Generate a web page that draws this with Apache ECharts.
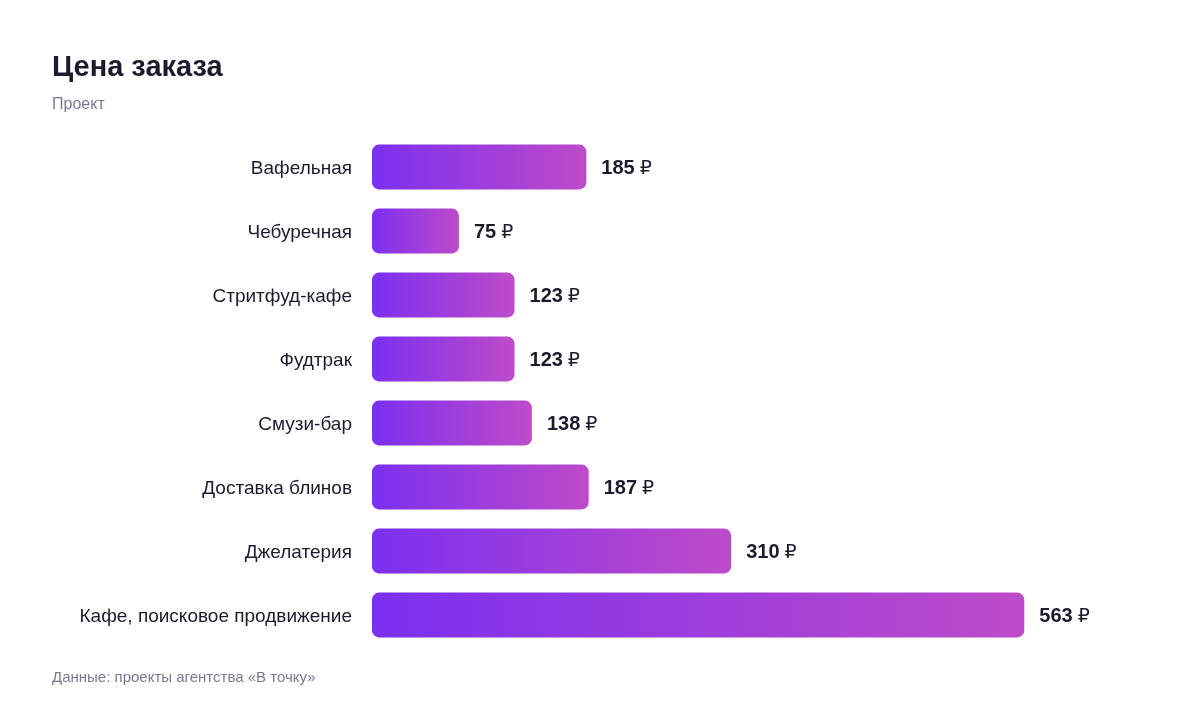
<!DOCTYPE html>
<html>
<head>
<meta charset="utf-8">
<script src="https://cdn.jsdelivr.net/npm/echarts@6/dist/echarts.min.js"></script>
<style>
  html, body { margin: 0; padding: 0; background: #fff; }
  #chart { width: 1200px; height: 712px; }
</style>
</head>
<body>
<div id="chart"></div>
<script>
// данные графика
var categories = [
  'Вафельная',
  'Чебуречная',
  'Стритфуд-кафе',
  'Фудтрак',
  'Смузи-бар',
  'Доставка блинов',
  'Джелатерия',
  'Кафе, поисковое продвижение'
];
var prices = [185, 75, 123, 123, 138, 187, 310, 563];
var currency = '₽';

var fontMain = '"Liberation Sans", Arial, Helvetica, sans-serif';

var chart = echarts.init(document.getElementById('chart'), null, { renderer: 'canvas' });

var barGradient = new echarts.graphic.LinearGradient(0, 0, 1, 0, [
  { offset: 0, color: '#7b2ff0' },
  { offset: 1, color: '#be4bc9' }
]);

var option = {
  backgroundColor: '#ffffff',
  animation: false,
  title: [
    {
      text: 'Цена заказа',
      left: 47,
      top: 48,
      textStyle: { fontFamily: fontMain, fontSize: 29, fontWeight: 'bold', color: '#1c1b2e' }
    },
    {
      text: 'Проект',
      left: 47,
      top: 92,
      textStyle: { fontFamily: fontMain, fontSize: 16, fontWeight: 'normal', color: '#7a7890' }
    },
    {
      text: 'Данные: проекты агентства «В точку»',
      left: 47,
      top: 665,
      textStyle: { fontFamily: fontMain, fontSize: 15, fontWeight: 'normal', color: '#7a7890' }
    }
  ],
  grid: { left: 372, right: 17, top: 135, bottom: 65, containLabel: false },
  xAxis: {
    type: 'value',
    min: 0,
    max: 700,
    show: false
  },
  yAxis: {
    type: 'category',
    inverse: true,
    data: categories,
    axisLine: { show: false },
    axisTick: { show: false },
    splitLine: { show: false },
    axisLabel: {
      margin: 20,
      formatter: function (v) { return '{t|' + v + '}'; },
      rich: {
        t: { fontFamily: fontMain, fontSize: 19, color: '#1c1b2e', padding: [4, 0, 0, 0] }
      }
    }
  },
  series: [{
    type: 'bar',
    data: prices,
    barCategoryGap: '30%',
    itemStyle: { color: barGradient, borderRadius: 7 },
    label: {
      show: true,
      position: 'right',
      distance: 15,
      formatter: function (p) { return '{v|' + p.value + '}{c|' + currency + '}'; },
      rich: {
        v: { fontFamily: fontMain, fontSize: 20, fontWeight: 'bold', color: '#1c1b2e', padding: [2, 0, 0, 0] },
        c: { fontFamily: '"DejaVu Sans", sans-serif', fontSize: 19, fontWeight: 'normal', color: '#1c1b2e', padding: [4, 0, 0, 5] }
      }
    }
  }]
};

chart.setOption(option);
</script>
</body>
</html>
